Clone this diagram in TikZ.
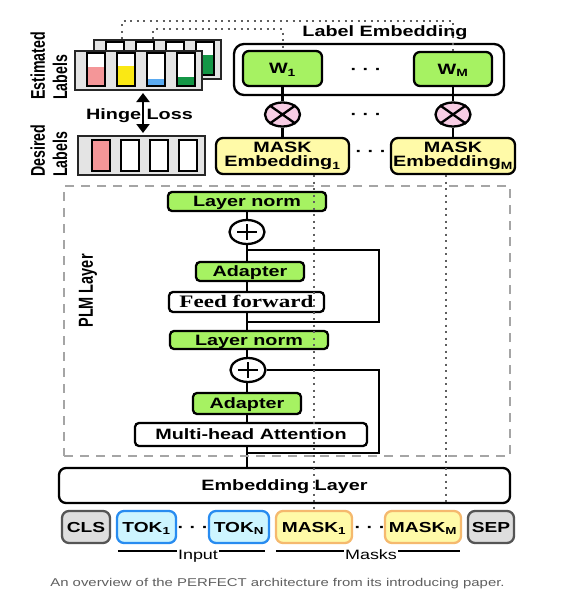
\documentclass[tikz,border=0pt]{standalone}
\usepackage{fontspec}
\setmainfont{Liberation Sans}[FakeStretch=1.32]
\newfontfamily\serifwide{Liberation Serif}[FakeStretch=1.32]
\newfontfamily\sansplain{Liberation Sans}
\usetikzlibrary{calc,shapes.geometric,arrows.meta,backgrounds}
\definecolor{lgreen}{RGB}{166,242,98}
\definecolor{lyellow}{RGB}{255,250,168}
\definecolor{lpink}{RGB}{248,205,228}
\definecolor{cpink}{RGB}{244,150,152}
\definecolor{cyellow}{RGB}{250,232,20}
\definecolor{cblue}{RGB}{90,170,240}
\definecolor{cgreen}{RGB}{20,150,70}
\definecolor{cardgray}{RGB}{228,228,228}
\definecolor{tokfill}{RGB}{205,245,255}
\definecolor{tokdraw}{RGB}{40,140,240}
\definecolor{maskdraw}{RGB}{245,185,110}
\definecolor{grayfill}{RGB}{222,222,222}
\definecolor{graydraw}{RGB}{85,85,85}
\definecolor{dashgray}{RGB}{165,165,165}
\definecolor{dotgray}{RGB}{95,95,95}
\definecolor{capgray}{RGB}{95,95,95}
\newcommand\lsub[1]{\textsubscript{#1}}
\begin{document}
\begin{tikzpicture}[x=1pt,y=-1pt,
  conn/.style={line width=2.3pt},
  dotl/.style={draw=dotgray, line width=2pt, dash pattern=on 2pt off 4.5pt},
  lbl/.style={font=\bfseries\fontsize{15}{17}\selectfont},
  blk/.style={draw, line width=2.3pt, rounded corners=4pt, inner sep=0pt, text height=10.7pt, text depth=0pt, lbl},
  gbox/.style={blk, fill=lgreen},
  wbox/.style={blk, fill=white},
  ybox/.style={draw, line width=2.3pt, rounded corners=7pt, inner sep=0pt, fill=lyellow, align=center, font=\bfseries\fontsize{15}{14.5}\selectfont},
  opnode/.style={ellipse, draw, line width=2.3pt, minimum width=35pt, minimum height=24pt, inner sep=0pt, fill=white},
  card/.style={draw=black!85, line width=2pt, fill=cardgray, minimum width=127pt, minimum height=39pt, inner sep=0pt},
  cellb/.style={draw=black, line width=2pt, fill=white},
  tok/.style={draw, line width=2.3pt, rounded corners=7pt, minimum height=32pt, inner sep=0pt, text height=10.4pt, text depth=0pt, font=\bfseries\fontsize{14.5}{16}\selectfont},
  clsbox/.style={tok, fill=grayfill, draw=graydraw},
  tokin/.style={tok, fill=tokfill, draw=tokdraw},
  tokmask/.style={tok, fill=lyellow, draw=maskdraw},
  dots/.style={font=\bfseries\fontsize{15}{17}\selectfont, inner sep=0pt},
  rot/.style={rotate=90, inner sep=0pt},
  underl/.style={line width=2pt},
  brlabel/.style={font=\fontsize{13.6}{15}\selectfont, fill=white, inner sep=1pt, anchor=base}
]
\useasboundingbox (0,0) rectangle (572,597);

% ---------- PLM dashed frame ----------
\node[draw=dashgray, dash pattern=on 9pt off 7pt, line width=2pt, minimum width=446pt, minimum height=270pt, inner sep=0pt] (plmbox) at (287,321) {};
\node[rot] (plm) at (88,291) {\scalebox{1}[1.4]{\sansplain\bfseries\fontsize{14.5}{16}\selectfont PLM Layer}};

% ---------- label cards ----------
\node[card] (estb) at (157.5,59.5) {};
\foreach \cx/\fr/\col in {106/0.5/cpink, 136/0.5/cyellow, 166/0.2/cblue, 196/0.6/cgreen}{
  \draw[cellb] (\cx,42) rectangle (\cx+18,75);
  \fill[\col] (\cx+1,{74-32*\fr}) rectangle (\cx+17,74);
}
\node[card] (estf) at (138.5,70.5) {};
\foreach \cx/\fr/\col in {87/0.55/cpink, 117/0.58/cyellow, 147/0.2/cblue, 177/0.24/cgreen}{
  \draw[cellb] (\cx,53) rectangle (\cx+18,86);
  \fill[\col] (\cx+1,{85-32*\fr}) rectangle (\cx+17,85);
}
\node[card] (des) at (141.5,155.5) {};
\foreach \cx in {92,121,150,179}{
  \draw[cellb] (\cx,140) rectangle (\cx+18,171);
}
\fill[cpink] (93,141) rectangle (109,170);
\node[rot, anchor=west] (estlbl) at (51.5,100) {\scalebox{1}[1.4]{\sansplain\bfseries\fontsize{14.2}{16}\selectfont\begin{tabular}{@{}l@{}}Estimated\\Labels\end{tabular}}};
\node[rot, anchor=west] (deslbl) at (51.5,177) {\scalebox{1}[1.4]{\sansplain\bfseries\fontsize{14.2}{16}\selectfont\begin{tabular}{@{}l@{}}Desired\\Labels\end{tabular}}};

\node[lbl, anchor=base, inner sep=0pt] (hinge) at (139.5,119) {Hinge Loss};
\coordinate (hx) at (143,0);
\draw[line width=2.5pt, {Triangle[length=9pt,width=13pt]}-{Triangle[length=9pt,width=13pt]}, shorten <=2pt, shorten >=2pt] (estf.south -| hx) -- (des.north -| hx);

% ---------- label embedding ----------
\node[draw, line width=2.3pt, rounded corners=10pt, minimum width=270pt, minimum height=51pt, inner sep=0pt] (lebox) at (369,69.5) {};
\node[lbl, anchor=base, inner sep=0pt] (letitle) at (385,36) {Label Embedding};
\node[gbox, rounded corners=6pt, minimum width=79pt, minimum height=35pt] (w1) at (282.5,68.5) {W\lsub{1}};
\node[gbox, rounded corners=6pt, minimum width=78pt, minimum height=34pt] (wm) at (453,69) {W\lsub{M}};
\node[dots] (dw) at (366,71) {· · ·};

\node[opnode, fill=lpink] (o1) at (282.5,114.5) {};
\node[opnode, fill=lpink] (om) at (453,114.5) {};
\draw[conn] (o1.north west) -- (o1.south east) (o1.north east) -- (o1.south west);
\draw[conn] (om.north west) -- (om.south east) (om.north east) -- (om.south west);
\node[dots] (dox) at (366,116) {· · ·};

\node[ybox, minimum width=133pt, minimum height=36pt] (me1) at (282.5,156) {MASK\\Embedding\lsub{1}};
\node[ybox, minimum width=124pt, minimum height=36pt] (mem) at (453,156) {MASK\\Embedding\lsub{M}};
\node[dots] (dme) at (371,153) {· · ·};

\draw[conn] (w1) -- (o1);
\draw[conn] (o1) -- (me1);
\draw[conn] (wm) -- (om);
\draw[conn] (om) -- (mem);

% ---------- PLM stack ----------
\node[gbox, minimum width=158pt, minimum height=19pt] (ln1) at (247,201.5) {Layer norm};
\node[opnode] (p1) at (247,232) {};
\node[gbox, minimum width=108pt, minimum height=19pt] (ad1) at (250,271.5) {Adapter};
\node[wbox, font=\serifwide\bfseries\fontsize{17.5}{19}\selectfont, text height=11.6pt, minimum width=155pt, minimum height=20pt] (ff) at (246.5,302) {Feed forward};
\node[gbox, minimum width=158pt, minimum height=18pt] (ln2) at (249,340) {Layer norm};
\node[opnode] (p2) at (248,370) {};
\node[gbox, minimum width=108pt, minimum height=21pt] (ad2) at (247,403.5) {Adapter};
\node[wbox, minimum width=232pt, minimum height=23pt] (mha) at (251,434.5) {Multi-head Attention};

\node[wbox, rounded corners=7pt, minimum width=451pt, minimum height=35pt] (emb) at (284.5,485.5) {Embedding Layer};

\begin{pgfonlayer}{background}
  \fill[white] (0,0) rectangle (572,597);
  \draw[conn] (ln1.south) -- (ln1.south |- emb.north);
\end{pgfonlayer}
\foreach \p in {p1,p2}{
  \draw[line width=2.5pt] ($(\p.center)+(-10,0)$) -- ($(\p.center)+(10,0)$)
                          ($(\p.center)+(0,-8)$) -- ($(\p.center)+(0,8)$);
}
% residual loops
\coordinate (r1a) at (247,250);
\coordinate (r1b) at (247,322);
\coordinate (rx1) at (379,322);
\draw[conn] (r1a) -| (rx1) -- (r1b);
\coordinate (r2b) at (247,453);
\coordinate (rx2) at (379,453);
\draw[conn] (p2.east) -| (rx2) -- (r2b);

% ---------- tokens ----------
\node[clsbox, minimum width=48pt] (cls) at (86,527) {CLS};
\node[tokin, minimum width=59pt] (tok1) at (146.5,527) {TOK\lsub{1}};
\node[dots] (dt1) at (193,529) {· · ·};
\node[tokin, minimum width=60pt] (tokn) at (239,527) {TOK\lsub{N}};
\node[tokmask, minimum width=76pt] (mk1) at (314,527) {MASK\lsub{1}};
\node[dots] (dt2) at (370,529) {· · ·};
\node[tokmask, minimum width=76pt] (mkm) at (423,527) {MASK\lsub{M}};
\node[clsbox, minimum width=46pt] (sep) at (491,527) {SEP};

\draw[underl] ($(tok1.south west)+(2,7)$) -- ($(tokn.south east)+(-5,7)$);
\node[brlabel] (inp) at (198,559) {Input};
\draw[underl] ($(mk1.south west)+(1,7)$) -- ($(mkm.south east)+(-2,7)$);
\node[brlabel] (msk) at (371,559) {Masks};

% ---------- dotted guide lines ----------
\coordinate (dA) at (122,39);
\coordinate (dB) at (153,39);
\draw[dotl] (dA) -- ++(0,-18) -| (wm.north);
\draw[dotl] (dB) -- ++(0,-10) -| (w1.north);
\draw[dotl] (me1.south -| mk1.north) -- (mk1.north);
\coordinate (dC) at (446,0);
\draw[dotl] (mem.south -| dC) -- (emb.south -| dC);

% ---------- caption ----------
\node[anchor=base, inner sep=0pt, text=capgray, font=\fontsize{11.3}{13}\selectfont] (cap) at (277.5,586) {An overview of the PERFECT architecture from its introducing paper.};
\end{tikzpicture}
\end{document}
